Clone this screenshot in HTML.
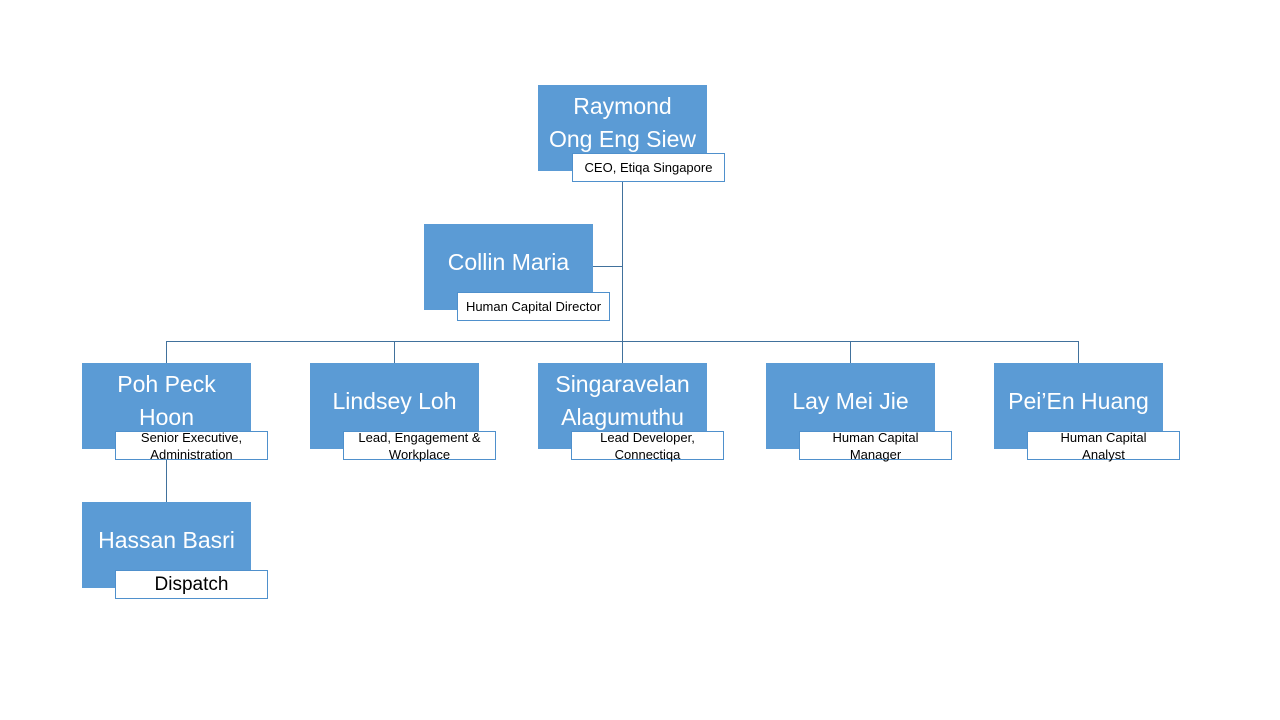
<!DOCTYPE html>
<html><head><style>
body{margin:0;width:1280px;height:720px;background:#fff;position:relative;overflow:hidden;font-family:"Liberation Sans",sans-serif}
.b{position:absolute;width:169px;height:86px;background:#5b9bd5;color:#fff;font-size:23px;line-height:33px;display:flex;align-items:center;justify-content:center;text-align:center;padding-bottom:10px;box-sizing:border-box}
.l{position:absolute;width:153px;height:29px;background:#fff;border:1px solid #4f90cc;box-sizing:border-box;color:#000;font-size:13px;line-height:17px;display:flex;align-items:center;justify-content:center;text-align:center}
.h{position:absolute;height:1px;background:#41719c}
.v{position:absolute;width:1px;background:#41719c}
</style></head><body>
<div class="v" style="left:622px;top:182px;height:181px"></div>
<div class="h" style="left:593px;top:266px;width:30px"></div>
<div class="h" style="left:166px;top:341px;width:913px"></div>
<div class="v" style="left:166px;top:341px;height:22px"></div>
<div class="v" style="left:394px;top:341px;height:22px"></div>
<div class="v" style="left:850px;top:341px;height:22px"></div>
<div class="v" style="left:1078px;top:341px;height:22px"></div>
<div class="v" style="left:166px;top:460px;height:42px"></div>

<div class="b" style="left:538px;top:85px">Raymond<br>Ong Eng Siew</div>
<div class="l" style="left:572px;top:153px">CEO, Etiqa Singapore</div>
<div class="b" style="left:424px;top:224px">Collin Maria</div>
<div class="l" style="left:457px;top:292px">Human Capital Director</div>

<div class="b" style="left:82px;top:363px">Poh Peck<br>Hoon</div>
<div class="l" style="left:115px;top:431px">Senior Executive,<br>Administration</div>
<div class="b" style="left:310px;top:363px">Lindsey Loh</div>
<div class="l" style="left:343px;top:431px">Lead, Engagement &amp;<br>Workplace</div>
<div class="b" style="left:538px;top:363px">Singaravelan<br>Alagumuthu</div>
<div class="l" style="left:571px;top:431px">Lead Developer,<br>Connectiqa</div>
<div class="b" style="left:766px;top:363px">Lay Mei Jie</div>
<div class="l" style="left:799px;top:431px">Human Capital<br>Manager</div>
<div class="b" style="left:994px;top:363px">Pei’En Huang</div>
<div class="l" style="left:1027px;top:431px">Human Capital<br>Analyst</div>

<div class="b" style="left:82px;top:502px">Hassan Basri</div>
<div class="l" style="left:115px;top:570px;font-size:19px">Dispatch</div>
</body></html>
